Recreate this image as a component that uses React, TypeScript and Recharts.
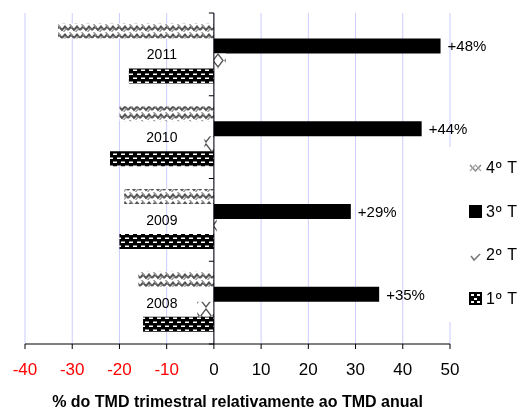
import React from 'react';
import { BarChart, Bar, XAxis, YAxis, CartesianGrid, ReferenceLine, LabelList } from 'recharts';

// Quarter share of the yearly mean, per year (top to bottom)
const years = ['2011', '2010', '2009', '2008'];
const q4 = [-33, -20, -19, -16];
const q3 = [48, 44, 29, 35];
const q2 = [2.5, -2, 0.6, -3.5];
const q1 = [-18, -22, -20, -15];
const xTicks = [-40, -30, -20, -10, 0, 10, 20, 30, 40, 50];
const seriesNames = ['4º T', '3º T', '2º T', '1º T'];
const axisTitle = '% do TMD trimestral relativamente ao TMD anual';

const data = years.map((y, i) => ({ year: y, q4: q4[i], q3: q3[i], q2: q2[i], q1: q1[i] }));

const W = 516;
const H = 401;
const M = { top: 5, right: 74, bottom: 0, left: 16 };
const Y_AXIS_W = 1;
const X_AXIS_H = 65;
const X_MIN = xTicks[0];
const X_MAX = xTicks[xTicks.length - 1];
const PLOT_LEFT = M.left + Y_AXIS_W;
const PLOT_W = W - PLOT_LEFT - M.right;
const PLOT_H = H - M.top - M.bottom - X_AXIS_H;
const BAND = PLOT_H / years.length;
const ZERO_X = PLOT_LEFT + ((0 - X_MIN) / (X_MAX - X_MIN)) * PLOT_W;
const FONT = '"Liberation Sans", Arial, sans-serif';

const XTick = (props: any) => {
  const { x, y, payload } = props;
  const v = payload.value as number;
  return (
    <text x={x} y={y} dy={24} textAnchor="middle" fontFamily={FONT} fontSize={17} fill={v < 0 ? '#ff0000' : '#000000'}>
      {v}
    </text>
  );
};

const YTick = (props: any) => {
  const { y, payload, index } = props;
  const top = y - BAND / 2;
  return (
    <g>
      <line x1={ZERO_X - 5} x2={ZERO_X} y1={top} y2={top} stroke="#000" strokeWidth={1} />
      {index === years.length - 1 && (
        <line x1={ZERO_X - 5} x2={ZERO_X} y1={y + BAND / 2} y2={y + BAND / 2} stroke="#000" strokeWidth={1} />
      )}
      <text x={ZERO_X - 52} y={y} dy={5} textAnchor="middle" fontFamily={FONT} fontSize={14} fill="#000">
        {payload.value}
      </text>
    </g>
  );
};

const LegendIcon = ({ i }: { i: number }) => {
  if (i === 0)
    return (
      <svg width={13} height={13}>
        <polyline points="1,3 6.5,9 12,3" fill="none" stroke="#888" strokeWidth={1.5} />
        <polyline points="1,9 6.5,3 12,9" fill="none" stroke="#aaa" strokeWidth={1.2} />
      </svg>
    );
  if (i === 1)
    return (
      <svg width={13} height={13}>
        <rect x={0} y={0} width={13} height={13} fill="#000" />
      </svg>
    );
  if (i === 2)
    return (
      <svg width={13} height={13}>
        <polyline points="2,7 5,11 11,5" fill="none" stroke="#777" strokeWidth={1.5} />
      </svg>
    );
  return (
    <svg width={13} height={13}>
      <rect x={0} y={0} width={13} height={13} fill="#000" />
      <rect x={2} y={2} width={3} height={2} fill="#fff" />
      <rect x={8} y={2} width={3} height={2} fill="#fff" />
      <rect x={5} y={6} width={3} height={2} fill="#fff" />
      <rect x={2} y={9} width={3} height={2} fill="#fff" />
      <rect x={8} y={9} width={3} height={2} fill="#fff" />
    </svg>
  );
};

export default function App() {
  return (
    <div style={{ position: 'fixed', left: 8, top: 8, width: W, height: H }}>
      <BarChart
        width={W}
        height={H}
        data={data}
        layout="vertical"
        margin={M}
        barCategoryGap="12.7%"
        barGap={0}
      >
        <defs>
          <pattern id="pWeave" patternUnits="userSpaceOnUse" width={12} height={8}>
            <rect width={12} height={8} fill="#fff" />
            <polyline points="0,6 3,2.5 6,6 9,2.5 12,6" fill="none" stroke="#555" strokeWidth={2} />
            <polyline points="1.5,0 4.5,3.5" fill="none" stroke="#999" strokeWidth={1.5} />
            <polyline points="7.5,8 10.5,4.5" fill="none" stroke="#999" strokeWidth={1.5} />
          </pattern>
          <pattern id="pDiamond" patternUnits="userSpaceOnUse" width={12} height={15}>
            <rect width={12} height={15} fill="#fff" />
            <polygon points="6,1 11,7.5 6,14 1,7.5" fill="none" stroke="#555" strokeWidth={1.3} />
          </pattern>
          <pattern id="pCheck" patternUnits="userSpaceOnUse" width={8} height={8}>
            <rect width={8} height={8} fill="#000" />
            <rect x={1} y={1.5} width={4} height={1.5} fill="#fff" />
            <rect x={5} y={5.5} width={4} height={1.5} fill="#fff" />
            <rect x={-3} y={5.5} width={4} height={1.5} fill="#fff" />
          </pattern>
        </defs>
        <CartesianGrid horizontal={false} stroke="#ccccff" />
        <XAxis
          type="number"
          domain={[X_MIN, X_MAX]}
          ticks={xTicks}
          interval={0}
          height={X_AXIS_H}
          tick={<XTick />}
          tickSize={5}
          stroke="#000"
          axisLine={{ stroke: '#000' }}
          tickLine={{ stroke: '#000' }}
          label={{
            value: axisTitle,
            position: 'insideBottom',
            offset: 2,
            style: { fontFamily: FONT, fontSize: 16, fontWeight: 'bold', fill: '#000' },
          }}
        />
        <YAxis
          type="category"
          dataKey="year"
          width={Y_AXIS_W}
          interval={0}
          axisLine={false}
          tickLine={false}
          tick={<YTick />}
        />
        <Bar dataKey="q4" name={seriesNames[0]} fill="url(#pWeave)" isAnimationActive={false} />
        <Bar dataKey="q3" name={seriesNames[1]} fill="#000" isAnimationActive={false}>
          <LabelList
            dataKey="q3"
            position="right"
            offset={7}
            formatter={(v: any) => `+${v}%`}
            style={{ fontFamily: FONT, fontSize: 15, fill: '#000' }}
          />
        </Bar>
        <Bar dataKey="q2" name={seriesNames[2]} fill="url(#pDiamond)" isAnimationActive={false} />
        <Bar dataKey="q1" name={seriesNames[3]} fill="url(#pCheck)" isAnimationActive={false} />
        <ReferenceLine x={0} stroke="#000" strokeWidth={1} />
      </BarChart>
      <div
        style={{
          position: 'absolute',
          left: 441,
          top: 139,
          width: 75,
          height: 175,
          background: '#fff',
          fontFamily: FONT,
          fontSize: 16,
          color: '#000',
        }}
      >
        {seriesNames.map((n, i) => (
          <div
            key={n}
            style={{
              position: 'absolute',
              left: 20,
              top: 11 + i * 43.5,
              width: 55,
              display: 'flex',
              alignItems: 'center',
              height: 20,
            }}
          >
            <LegendIcon i={i} />
            <span style={{ marginLeft: 4, whiteSpace: 'pre', letterSpacing: 0.8 }}>{n}</span>
          </div>
        ))}
      </div>
    </div>
  );
}
